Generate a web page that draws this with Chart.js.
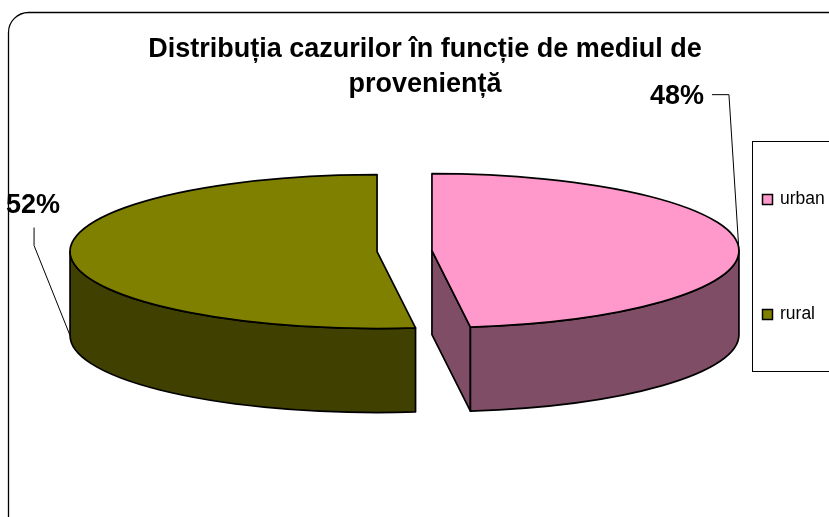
<!DOCTYPE html>
<html>
<head>
<meta charset="utf-8">
<script src="https://cdn.jsdelivr.net/npm/chart.js@4.4.0/dist/chart.umd.min.js"></script>
<style>
  html, body { margin: 0; padding: 0; background: #fff; overflow: hidden; }
  canvas { display: block; }
</style>
</head>
<body>
<canvas id="pie" width="850" height="517"></canvas>
<script>
const titleLines = ['Distribuția cazurilor în funcție de mediul de', 'proveniență'];
const categories = ['urban', 'rural'];
const shares = [48, 52];
const topColors = ['#FF99CC', '#808000'];
const sideColors = ['#804D66', '#404000'];

// look of the 3d pie
const TILT = 77 / 307;
const DEPTH = 84;
const SHIFT_X = -20.5;
const FONT = "'Liberation Sans', Arial, sans-serif";

// where each percent label sits, relative to its anchor on the slice rim
const labelSpots = [
  { angle: 0, bottom: false, path: [[-10, -156], [-27, -156]], text: [-35, -154], align: 'right' },
  { angle: Math.PI, bottom: true, path: [[-36, -90], [-36, -108]], text: [-37, -130], align: 'center' }
];

function sliceCenter(arc) {
  const mid = (arc.startAngle + arc.endAngle) / 2;
  const off = arc.options.offset || 0;
  return [arc.x + SHIFT_X + Math.cos(mid) * off, arc.y + Math.sin(mid) * off * TILT];
}

const pie3d = {
  id: 'pie3d',
  beforeDraw(chart) {
    const ctx = chart.ctx;
    ctx.save();
    ctx.strokeStyle = '#000';
    ctx.lineWidth = 1.3;
    ctx.beginPath();
    ctx.roundRect(8.5, 12.5, 870, 530, 20);
    ctx.stroke();
    ctx.restore();
  },
  beforeDatasetsDraw(chart) {
    const ctx = chart.ctx;
    const arcs = chart.getDatasetMeta(0).data;
    ctx.save();
    ctx.strokeStyle = '#000';
    ctx.lineWidth = 1.7;
    ctx.lineJoin = 'round';
    arcs.forEach((arc, i) => {
      const a = arc.startAngle, b = arc.endAngle;
      const rx = arc.outerRadius, ry = rx * TILT;
      const [cx, cy] = sliceCenter(arc);

      const face = (t) => {
        const x = cx + rx * Math.cos(t), y = cy + ry * Math.sin(t);
        ctx.beginPath();
        ctx.moveTo(cx, cy);
        ctx.lineTo(x, y);
        ctx.lineTo(x, y + DEPTH);
        ctx.lineTo(cx, cy + DEPTH);
        ctx.closePath();
        ctx.fillStyle = sideColors[i];
        ctx.fill();
        ctx.stroke();
      };
      if (-Math.cos(a) > 0.01) face(a);
      if (Math.cos(b) > 0.01) face(b);

      // front part of the round wall
      for (let k = -1; k <= 1; k++) {
        const s = Math.max(a, 2 * Math.PI * k);
        const e = Math.min(b, Math.PI + 2 * Math.PI * k);
        if (e <= s) continue;
        ctx.beginPath();
        ctx.ellipse(cx, cy, rx, ry, 0, s, e);
        ctx.ellipse(cx, cy + DEPTH, rx, ry, 0, e, s, true);
        ctx.closePath();
        ctx.fillStyle = sideColors[i];
        ctx.fill();
        ctx.stroke();
      }

      ctx.beginPath();
      ctx.moveTo(cx, cy);
      ctx.ellipse(cx, cy, rx, ry, 0, a, b);
      ctx.closePath();
      ctx.fillStyle = topColors[i];
      ctx.fill();
      ctx.stroke();
    });
    ctx.restore();
    return false;
  },
  afterDraw(chart) {
    const ctx = chart.ctx;
    const arcs = chart.getDatasetMeta(0).data;
    const total = shares.reduce((s, v) => s + v, 0);
    ctx.save();

    // percent labels with leader lines
    arcs.forEach((arc, i) => {
      const spot = labelSpots[i];
      const [cx, cy] = sliceCenter(arc);
      const rx = arc.outerRadius, ry = rx * TILT;
      const ax = cx + rx * Math.cos(spot.angle);
      const ay = cy + ry * Math.sin(spot.angle) + (spot.bottom ? DEPTH : 0);
      ctx.strokeStyle = '#000';
      ctx.lineWidth = 1;
      ctx.beginPath();
      ctx.moveTo(ax, ay);
      spot.path.forEach(([dx, dy]) => ctx.lineTo(ax + dx, ay + dy));
      ctx.stroke();
      ctx.fillStyle = '#000';
      ctx.font = 'bold 27px ' + FONT;
      ctx.textAlign = spot.align;
      ctx.textBaseline = 'middle';
      ctx.fillText(Math.round(shares[i] / total * 100) + '%', ax + spot.text[0], ay + spot.text[1]);
    });

    // legend box
    const boxL = 752.5, boxT = 141.5, boxB = 371.5;
    ctx.strokeStyle = '#000';
    ctx.lineWidth = 1;
    ctx.strokeRect(boxL, boxT, 200, boxB - boxT);
    const step = (boxB - boxT) / categories.length;
    categories.forEach((name, i) => {
      const y = boxT + step * (i + 0.5);
      ctx.fillStyle = topColors[i];
      ctx.fillRect(762.5, Math.round(y - 5) + 0.5, 10, 10);
      ctx.lineWidth = 1.5;
      ctx.strokeRect(762.5, Math.round(y - 5) + 0.5, 10, 10);
      ctx.fillStyle = '#000';
      ctx.font = '17.5px ' + FONT;
      ctx.textAlign = 'left';
      ctx.textBaseline = 'middle';
      ctx.fillText(name, 780, y);
    });
    ctx.restore();
  }
};

new Chart(document.getElementById('pie'), {
  type: 'pie',
  data: {
    labels: categories,
    datasets: [{
      data: shares,
      backgroundColor: topColors,
      borderWidth: 0,
      offset: 27.5
    }]
  },
  options: {
    responsive: false,
    animation: false,
    radius: 307,
    layout: { padding: { top: 0, bottom: 117, left: 0, right: 0 } },
    plugins: {
      legend: { display: false },
      tooltip: { enabled: false },
      title: {
        display: true,
        text: titleLines,
        color: '#000',
        padding: { top: 32, bottom: 0 },
        font: { family: FONT, size: 27, weight: 'bold', lineHeight: 1.3 }
      }
    }
  },
  plugins: [pie3d]
});
</script>
</body>
</html>
